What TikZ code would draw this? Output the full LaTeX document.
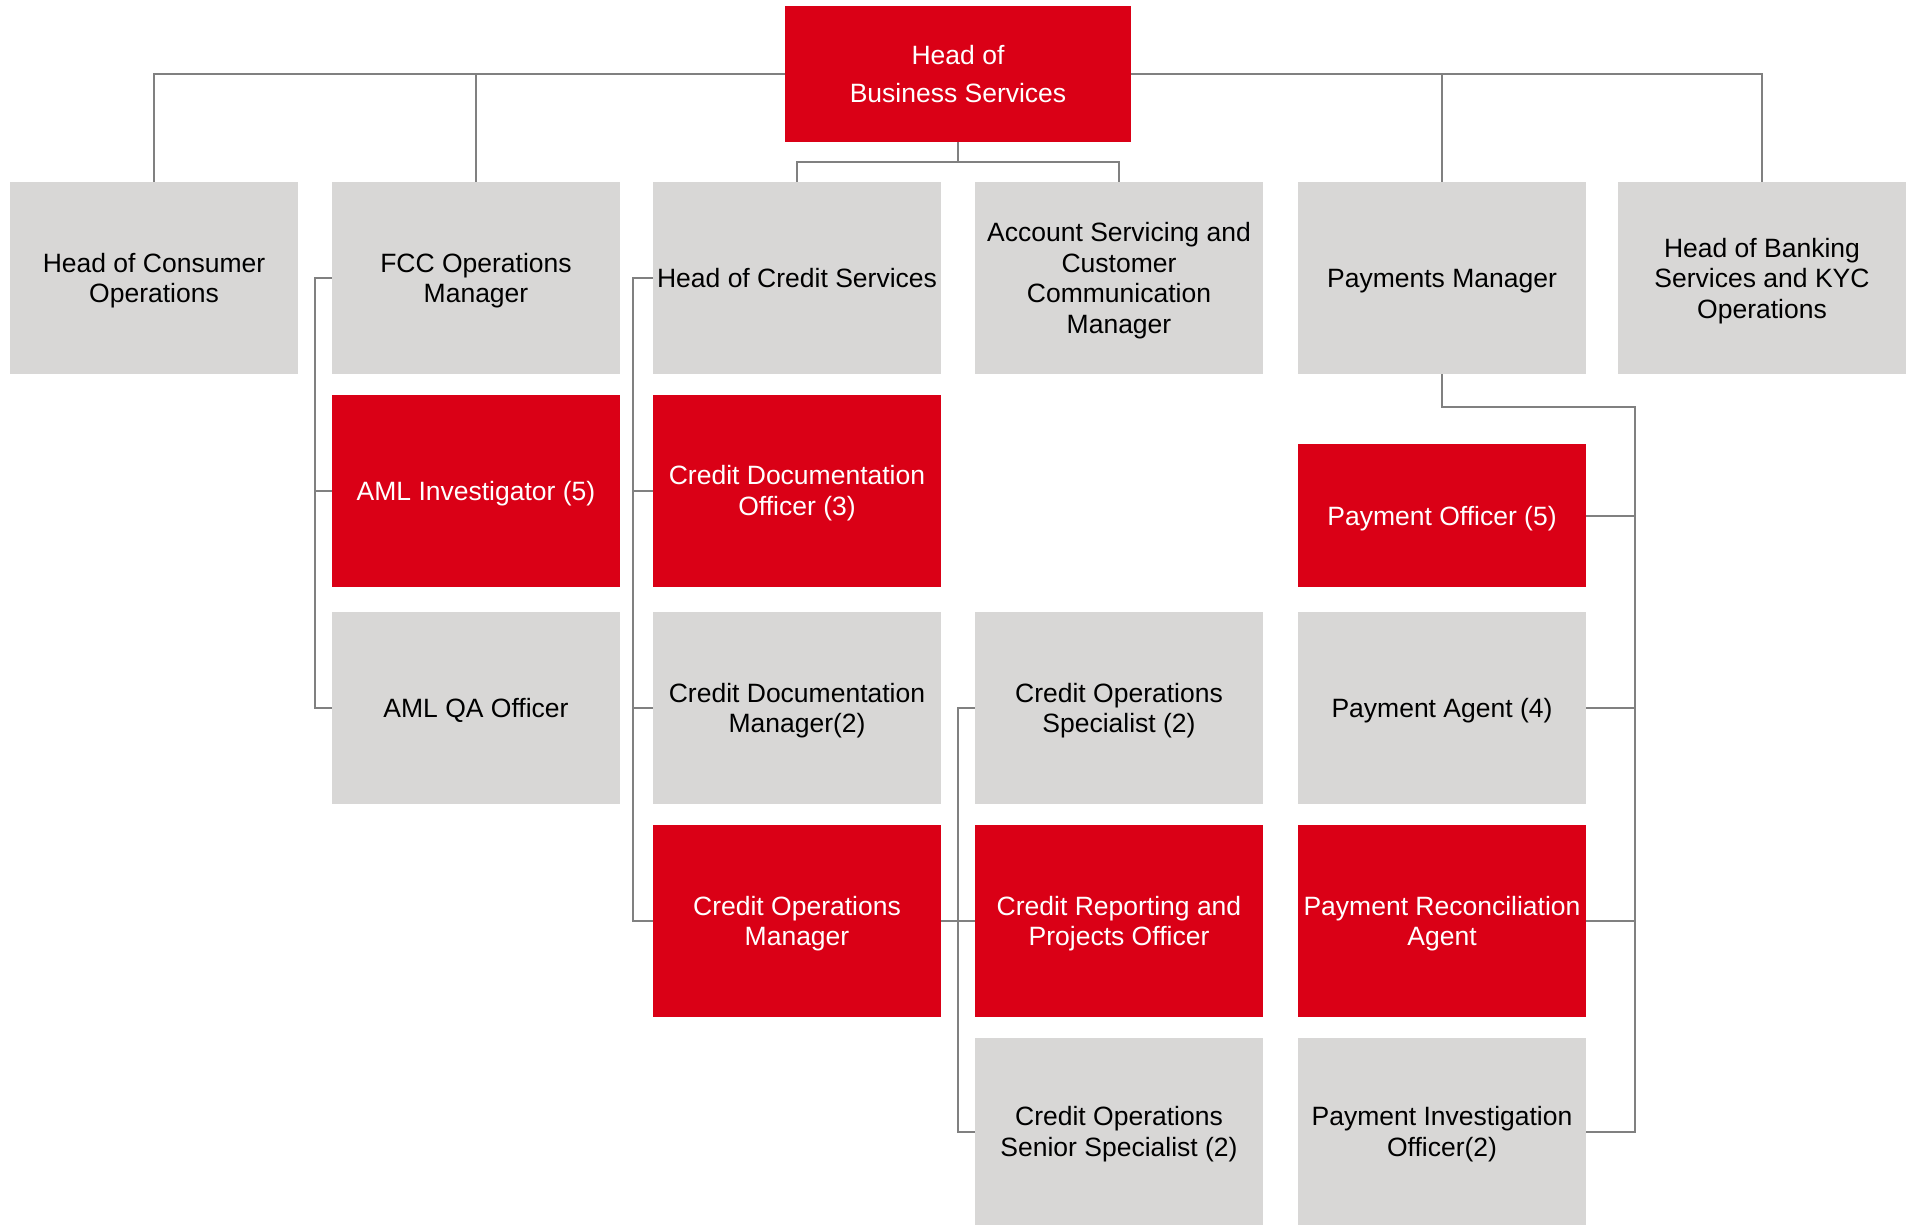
\documentclass[tikz,border=0pt]{standalone}
\usepackage{fontspec}
\setmainfont{Liberation Sans}
\definecolor{orgred}{RGB}{218,0,22}
\definecolor{orggrey}{RGB}{216,215,214}
\definecolor{orgline}{RGB}{128,128,128}

\begin{document}
\begin{tikzpicture}[x=1pt, y=-1pt, align=center,
        role/.style={inner sep=0pt, minimum width=288pt, minimum height=192pt, text depth=0pt},
        greybox/.style={role, fill=orggrey, text=black},
        redbox/.style={role, fill=orgred, text=white},
        link/.style={draw=orgline, line width=2pt}]
        \fontsize{26.5}{30.5}\selectfont
        \useasboundingbox (0,0) rectangle (1915,1225);

        \node[redbox, minimum width=346pt, minimum height=136pt, font=\fontsize{26.5}{38}\selectfont](HeadBusiness) at (958,74) {Head of\\Business Services};

        \node[greybox](Consumer) at (154,278) {Head of Consumer\\Operations};
        \node[greybox](FCC) at (476,278) {FCC Operations\\Manager};
        \node[greybox](CreditServices) at (797,278) {Head of Credit Services};
        \node[greybox](Account) at (1119,278) {Account Servicing and\\Customer\\Communication\\Manager};
        \node[greybox](Payments) at (1442,278) {Payments Manager};
        \node[greybox](Banking) at (1762,278) {Head of Banking\\Services and KYC\\Operations};

        \node[redbox](AMLInv) at (476,490.5) {AML Investigator (5)};
        \node[redbox](CreditDocOff) at (797,490.5) {Credit Documentation\\Officer (3)};
        \node[redbox, minimum height=143pt](PayOfficer) at (1442,515.5) {Payment Officer (5)};

        \node[greybox](AMLQA) at (476,708) {AML QA Officer};
        \node[greybox](CreditDocMgr) at (797,708) {Credit Documentation\\Manager(2)};
        \node[greybox](CreditOpsSpec) at (1119,708) {Credit Operations\\Specialist (2)};
        \node[greybox](PayAgent) at (1442,708) {Payment Agent (4)};

        \node[redbox](CreditOpsMgr) at (797,921) {Credit Operations\\Manager};
        \node[redbox](CreditReport) at (1119,921) {Credit Reporting and\\Projects Officer};
        \node[redbox](PayRecon) at (1442,921) {Payment Reconciliation\\Agent};

        \node[greybox, minimum height=187pt](CreditOpsSenior) at (1119,1131.5) {Credit Operations\\Senior Specialist (2)};
        \node[greybox, minimum height=187pt](PayInvest) at (1442,1131.5) {Payment Investigation\\Officer(2)};

        \coordinate (PayBus) at (1635,407);

        \draw[link] (HeadBusiness.west) -| (Consumer.north);
        \draw[link] (HeadBusiness.west) -| (FCC.north);
        \draw[link] (HeadBusiness.east) -| (Payments.north);
        \draw[link] (HeadBusiness.east) -| (Banking.north);
        \draw[link] (HeadBusiness.south) -- ++(0,20) -| (CreditServices.north);
        \draw[link] (HeadBusiness.south) -- ++(0,20) -| (Account.north);

        \draw[link] (FCC.west) -- ++(-17,0) |- (AMLQA.west);
        \draw[link] (AMLInv.west) -- ++(-17,0);

        \draw[link] (CreditServices.west) -- ++(-19.5,0) |- (CreditOpsMgr.west);
        \draw[link] (CreditDocOff.west) -- ++(-19.5,0);
        \draw[link] (CreditDocMgr.west) -- ++(-19.5,0);

        \draw[link] (CreditOpsMgr.east) -- (CreditReport.west);
        \draw[link] (CreditOpsSpec.west) -- ++(-17,0) |- (CreditOpsSenior.west);

        \draw[link] (Payments.south) |- (PayBus) |- (PayInvest.east);
        \draw[link] (PayOfficer.east) -- (PayOfficer.east -| PayBus);
        \draw[link] (PayAgent.east) -- (PayAgent.east -| PayBus);
        \draw[link] (PayRecon.east) -- (PayRecon.east -| PayBus);
    \end{tikzpicture}
\end{document}
